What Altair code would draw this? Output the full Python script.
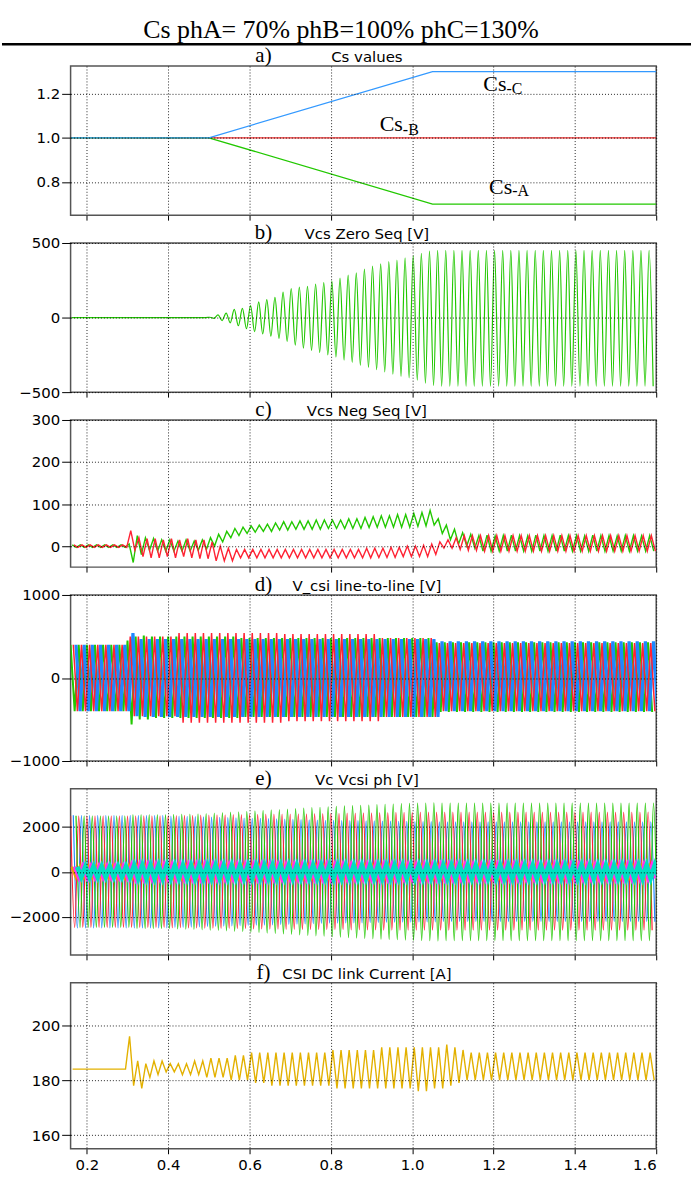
import altair as alt
import pandas as pd

# ---------------- shared time axis ----------------
X_DOMAIN = [0.16, 1.6]
X_TICKS = [0.2, 0.4, 0.6, 0.8, 1.0, 1.2, 1.4, 1.6]
CYCLE_START = 0.16      # first cycle shown
CYCLE = 0.02            # 50 Hz period

# ---------------- a) Cs values (breakpoints) ----------------
a_time = [0.16, 0.5, 1.05, 1.6]
a_csA = [1.0, 1.0, 0.7, 0.7]
a_csB = [1.0, 1.0, 1.0, 1.0]
a_csC = [1.0, 1.0, 1.3, 1.3]
cs_main = ["Cs", "Cs", "Cs"]
cs_sub = ["-C", "-B", "-A"]
cs_label_t = [1.175, 0.920, 1.189]
cs_label_v = [1.211, 1.031, 0.748]
cs_sub_t = [1.232, 0.977, 1.246]
cs_sub_v = [1.197, 1.013, 0.735]

# ---------------- b) Vcs zero sequence: per-cycle peak / trough ----------------
b_hi = ([0] * 17 + [2, 18, 30,
        55, 62, 80, 105, 120, 135, 170, 195, 205, 210,
        225, 235, 245, 265, 285, 300, 325, 345, 360, 375,
        385, 400, 415, 430, 445] + [450] * 27)
b_lo = ([0] * 17 + [-5, -20, -35,
        -55, -75, -95, -110, -125, -140, -160, -185, -205, -220,
        -235, -250, -265, -285, -300, -320, -335, -350, -365, -380,
        -395, -405, -420, -440, -455] + [-460] * 27)

# ---------------- c) Vcs negative sequence ----------------
c_green_hi = [3, 3, 3, 3, 3, 3, 3, 5, 25, 20,
              18, 15, 15, 12, 15, 12, 15, 20, 28, 35,
              42, 45, 48, 50, 52, 55, 58, 58, 60, 60,
              62, 62, 62, 62, 65, 65, 68, 70, 72, 72,
              75, 75, 78, 80, 85, 65, 50, 40, 32, 28,
              25, 26, 24, 25, 26, 25, 24, 26, 25, 25,
              26, 25, 25, 24, 26, 25, 25, 24, 25, 25,
              24, 25]
c_green_lo = ([-3, -3, -3, -3, -3, -3, -3, -39, -20, -10,
               -12, -12, -12, -12, -12, -10, -8, 0, 10, 20,
               25, 30, 33, 35, 35, 38, 38, 40, 40, 40,
               40, 42, 42, 42, 42, 42, 44, 45, 45, 45,
               45, 45, 47, 48, 50, 30, 15, 5, 0, -5] + [-12] * 22)
c_red_hi = ([3, 3, 3, 3, 3, 3, 3, 37, 20, 18,
             18, 15, 18, 15, 18, 15, 15, 10, 0, -5,
             -8, -8, -8, -8, -8, -8, -8, -8, -8, -8,
             -8, -8, -8, -8, -8, -8, -5, -5, -5, -3,
             -3, 0, 0, 2, 5, 10, 15, 20, 25, 25] + [25] * 22)
c_red_lo = ([-3, -3, -3, -3, -3, -3, -3, -10, -25, -28,
             -28, -25, -28, -25, -28, -30, -30, -35, -35, -35,
             -28, -28, -28, -28, -28, -28, -28, -28, -28, -28,
             -28, -28, -28, -28, -28, -28, -28, -27, -27, -27,
             -25, -25, -25, -25, -20, -5, -5, -8, -10, -10] + [-12] * 22)

# ---------------- d) V_csi line-to-line ----------------
d_green_hi = [400] * 7 + [450, 500, 510] + [500] * 11 + [480] * 24 + [430] * 27
d_green_lo = [-400] * 7 + [-560, -500, -500] + [-480] * 11 + [-470] * 24 + [-410] * 27
d_red_hi = [400] * 7 + [500] * 6 + [540] * 13 + [530] * 12 + [480] * 7 + [420] * 27
d_red_lo = [-400] * 7 + [-460] * 6 + [-540] * 13 + [-520] * 12 + [-470] * 7 + [-400] * 27
d_blue_hi = [400] * 7 + [540] + [470] * 37 + [440] * 27
d_blue_lo = [-400] * 7 + [-460] + [-470] * 37 + [-400] * 27

# ---------------- e) Vc / Vcsi phase voltages ----------------
e_green_hi = ([2500] * 7 + [2550] * 5 +
              [2560, 2570, 2580, 2590, 2600, 2620, 2640, 2660, 2680, 2700,
               2720, 2740, 2760, 2780, 2800, 2820, 2840, 2860, 2880, 2900,
               2920, 2940, 2950, 2960, 2980, 3000, 3010, 3020, 3040, 3050,
               3060, 3070, 3080] + [3060] * 27)
e_green_lo = ([-2480] * 7 + [-2530] * 5 +
              [-2540, -2550, -2560, -2580, -2600, -2610, -2630, -2650, -2670, -2690,
               -2710, -2730, -2750, -2770, -2790, -2810, -2830, -2850, -2870, -2890,
               -2910, -2930, -2950, -2960, -2980, -3000, -3010, -3020, -3040, -3050,
               -3060, -3070, -3080] + [-3070] * 27)
e_red_hi = ([2500] * 12 +
            [2510, 2510, 2520, 2520, 2530, 2530, 2540, 2540, 2550, 2550,
             2560, 2560, 2570, 2570, 2580, 2580, 2590, 2590, 2600, 2600,
             2610, 2610, 2620, 2620, 2630, 2630, 2640, 2640, 2650, 2650,
             2650, 2660, 2660] + [2660] * 27)
e_red_lo = ([-2480] * 12 +
            [-2490, -2490, -2500, -2500, -2510, -2510, -2520, -2520, -2530, -2530,
             -2540, -2540, -2550, -2550, -2560, -2560, -2570, -2570, -2575, -2575,
             -2580, -2580, -2585, -2585, -2590, -2590, -2595, -2595, -2600, -2600,
             -2600, -2600, -2600] + [-2600] * 27)
e_blue_hi = ([2520] * 12 +
             [2490, 2480, 2470, 2460, 2450, 2440, 2430, 2420, 2410, 2400,
              2390, 2380, 2370, 2360, 2350, 2340, 2330, 2320, 2310, 2300,
              2295, 2290, 2285, 2280, 2275, 2270, 2265, 2260, 2255, 2250,
              2245, 2240, 2235] + [2230] * 27)
e_blue_lo = ([-2500] * 12 +
             [-2480, -2470, -2460, -2450, -2440, -2430, -2420, -2410, -2400, -2390,
              -2380, -2370, -2360, -2350, -2340, -2330, -2320, -2310, -2300, -2290,
              -2285, -2280, -2275, -2270, -2265, -2260, -2255, -2250, -2245, -2240,
              -2235, -2230, -2225] + [-2220] * 27)
e_orange_hi = [230] * 7 + [250] * 65
e_orange_lo = [-230] * 7 + [-250] * 65
e_magenta_hi = [230] * 7 + [280] * 65
e_magenta_lo = [-230] * 7 + [-280] * 65
e_cyan_hi = [220] * 7 + [270] * 65
e_cyan_lo = [-220] * 7 + [-270] * 65

# ---------------- f) CSI DC link current ----------------
f_hi = ([184, 184, 184, 184, 184, 184, 184, 196, 187, 186,
         187, 187, 186, 186, 186, 187, 187, 188, 188, 188,
         189, 189, 190, 190, 190, 190, 190, 190, 190, 190,
         190, 190, 191, 191, 191, 191, 191, 191, 192, 192,
         192, 192, 192, 192, 192, 192, 193, 192, 191, 190] + [190] * 22)
f_lo = ([184, 184, 184, 184, 184, 184, 184, 178, 177, 181,
         182, 183, 183, 182, 182, 182, 181, 181, 181, 180,
         180, 180, 179, 179, 178, 178, 178, 178, 178, 178,
         178, 178, 177, 177, 177, 177, 177, 177, 177, 177,
         177, 177, 176, 176, 177, 177, 178, 179, 180, 180] + [180] * 22)

GREEN = "#22c800"
RED = "#ff2233"
BLUE = "#1e88ff"
PLOT_W = 589
SANS = "DejaVu Sans"
SERIF = "Liberation Serif"


def wave_df(hi, lo, phase):
    t, v, i = [], [], []
    for k in range(min(len(hi), len(lo))):
        t0 = CYCLE_START + phase + k * CYCLE
        t += [t0, t0 + CYCLE / 2]
        v += [hi[k], lo[k]]
        i += [2 * k, 2 * k + 1]
    return pd.DataFrame({"t": t, "v": v, "i": i})


def xenc(show):
    return alt.X("t:Q", scale=alt.Scale(domain=X_DOMAIN, nice=False, zero=False),
                 axis=alt.Axis(values=X_TICKS, labels=show, format=".1f", title=None,
                               tickSize=5, labelPadding=4, zindex=1))


def yaxis(ticks, fmt):
    return alt.Axis(values=ticks, format=fmt, title=None, tickSize=9,
                    labelPadding=2, zindex=1)


def yenc(dom, ticks, fmt, field="v"):
    return alt.Y(f"{field}:Q", scale=alt.Scale(domain=dom, nice=False, zero=False),
                 axis=yaxis(ticks, fmt))


def line(df, color, width, xe, ye, interp="linear"):
    return alt.Chart(df).mark_line(color=color, strokeWidth=width, interpolate=interp,
                                   clip=True).encode(x=xe, y=ye, order="i:Q")


def titles(letter, text):
    df = pd.DataFrame({"letter": [letter], "text": [text]})
    a = alt.Chart(df).mark_text(font=SERIF, fontSize=21, align="center",
                                baseline="alphabetic", color="black").encode(
        text="letter:N", x=alt.value(194), y=alt.value(-4))
    b = alt.Chart(df).mark_text(font=SANS, fontSize=15, align="center",
                                baseline="alphabetic", color="black").encode(
        text="text:N", x=alt.value(298), y=alt.value(-4))
    return [a, b]


# ---- panel a ----
A_DOM, A_TICKS = [0.65, 1.325], [0.8, 1.0, 1.2]
xa, ya = xenc(False), yenc(A_DOM, A_TICKS, ".1f")
df_a = pd.DataFrame({"t": a_time, "A": a_csA, "B": a_csB, "C": a_csC,
                     "i": list(range(len(a_time)))})
lab_df = pd.DataFrame({"t": cs_label_t, "v": cs_label_v, "txt": cs_main})
sub_df = pd.DataFrame({"t": cs_sub_t, "v": cs_sub_v, "txt": cs_sub})
head_df = pd.DataFrame({"title": ["Cs phA= 70% phB=100% phC=130%"]})

panel_a = alt.layer(
    alt.Chart(head_df).mark_rule(color="black", strokeWidth=2.5).encode(
        x=alt.value(-69), x2=alt.value(624), y=alt.value(-22)),
    alt.Chart(head_df).mark_rule(color="white", opacity=0, strokeWidth=1).encode(
        x=alt.value(-69), x2=alt.value(624), y=alt.value(-61.5)),
    alt.Chart(head_df).mark_text(font=SERIF, fontSize=26, align="center",
                                 baseline="alphabetic", color="black").encode(
        text="title:N", x=alt.value(272), y=alt.value(-28.5)),
    *titles("a)", "Cs values"),
    alt.Chart(df_a).mark_line(color="#ee2a2a", strokeWidth=1.3, clip=True).encode(
        x=xa, y=yenc(A_DOM, A_TICKS, ".1f", "B"), order="i:Q"),
    alt.Chart(df_a).mark_line(color=GREEN, strokeWidth=1.3, clip=True).encode(
        x=xa, y=yenc(A_DOM, A_TICKS, ".1f", "A"), order="i:Q"),
    alt.Chart(df_a).mark_line(color="#3399ff", strokeWidth=1.3, clip=True).encode(
        x=xa, y=yenc(A_DOM, A_TICKS, ".1f", "C"), order="i:Q"),
    alt.Chart(lab_df).mark_text(font=SERIF, fontSize=22, align="left",
                                baseline="alphabetic", color="black").encode(
        x=xa, y=ya, text="txt:N"),
    alt.Chart(sub_df).mark_text(font=SERIF, fontSize=16, align="left",
                                baseline="alphabetic", color="black").encode(
        x=xa, y=ya, text="txt:N"),
).properties(width=PLOT_W, height=150)

# ---- panel b ----
xb, yb = xenc(False), yenc([-500, 500], [-500, 0, 500], "d")
panel_b = alt.layer(
    *titles("b)", "Vcs Zero Seq [V]"),
    line(wave_df(b_hi, b_lo, 0.0025), GREEN, 1.2, xb, yb, "monotone"),
).properties(width=PLOT_W, height=150)

# ---- panel c ----
xc, yc = xenc(False), yenc([-50, 300], [0, 100, 200, 300], "d")
panel_c = alt.layer(
    *titles("c)", "Vcs Neg Seq [V]"),
    line(wave_df(c_green_hi, c_green_lo, 0.004), GREEN, 1.4, xc, yc),
    line(wave_df(c_red_hi, c_red_lo, 0.008), RED, 1.4, xc, yc),
).properties(width=PLOT_W, height=148)

# ---- panel d ----
xd, yd = xenc(False), yenc([-1000, 1000], [-1000, 0, 1000], "d")
panel_d = alt.layer(
    *titles("d)", "V_csi line-to-line [V]"),
    line(wave_df(d_green_hi, d_green_lo, 0.0), GREEN, 2.0, xd, yd),
    line(wave_df(d_blue_hi, d_blue_lo, 0.01333), BLUE, 3.2, xd, yd),
    line(wave_df(d_red_hi, d_red_lo, 0.00667), RED, 1.5, xd, yd),
).properties(width=PLOT_W, height=167)

# ---- panel e ----
xe, ye = xenc(False), yenc([-3700, 3700], [-2000, 0, 2000], "d")
panel_e = alt.layer(
    *titles("e)", "Vc Vcsi ph [V]"),
    line(wave_df(e_blue_hi, e_blue_lo, 0.00667), BLUE, 1.2, xe, ye, "monotone"),
    line(wave_df(e_red_hi, e_red_lo, 0.0), RED, 1.2, xe, ye, "monotone"),
    line(wave_df(e_green_hi, e_green_lo, 0.01333), GREEN, 1.2, xe, ye, "monotone"),
    line(wave_df(e_orange_hi, e_orange_lo, 0.003), "#e8a000", 3.0, xe, ye),
    line(wave_df(e_magenta_hi, e_magenta_lo, 0.0097), "#ff33ee", 4.0, xe, ye),
    line(wave_df(e_cyan_hi, e_cyan_lo, 0.0163), "#00e0c0", 5.0, xe, ye),
).properties(width=PLOT_W, height=167)

# ---- panel f ----
xf, yf = xenc(True), yenc([155, 215.5], [160, 180, 200], "d")
panel_f = alt.layer(
    *titles("f)", "CSI DC link Current [A]"),
    line(wave_df(f_hi, f_lo, 0.005), "#e3b100", 1.4, xf, yf),
).properties(width=PLOT_W, height=167)

chart = alt.vconcat(panel_a, panel_b, panel_c, panel_d, panel_e, panel_f,
                    spacing=28, bounds="flush").properties(
    padding=0, background="white"
).configure_view(
    stroke="#555555", strokeWidth=1.5
).configure_axis(
    labelFont=SANS, labelFontSize=15, labelColor="black",
    tickColor="black", domain=False, grid=True, gridColor="black",
    gridDash=[1, 2], gridWidth=1, gridOpacity=0.85
)

chart.save("out.html", embed_options={"renderer": "svg", "actions": False})
